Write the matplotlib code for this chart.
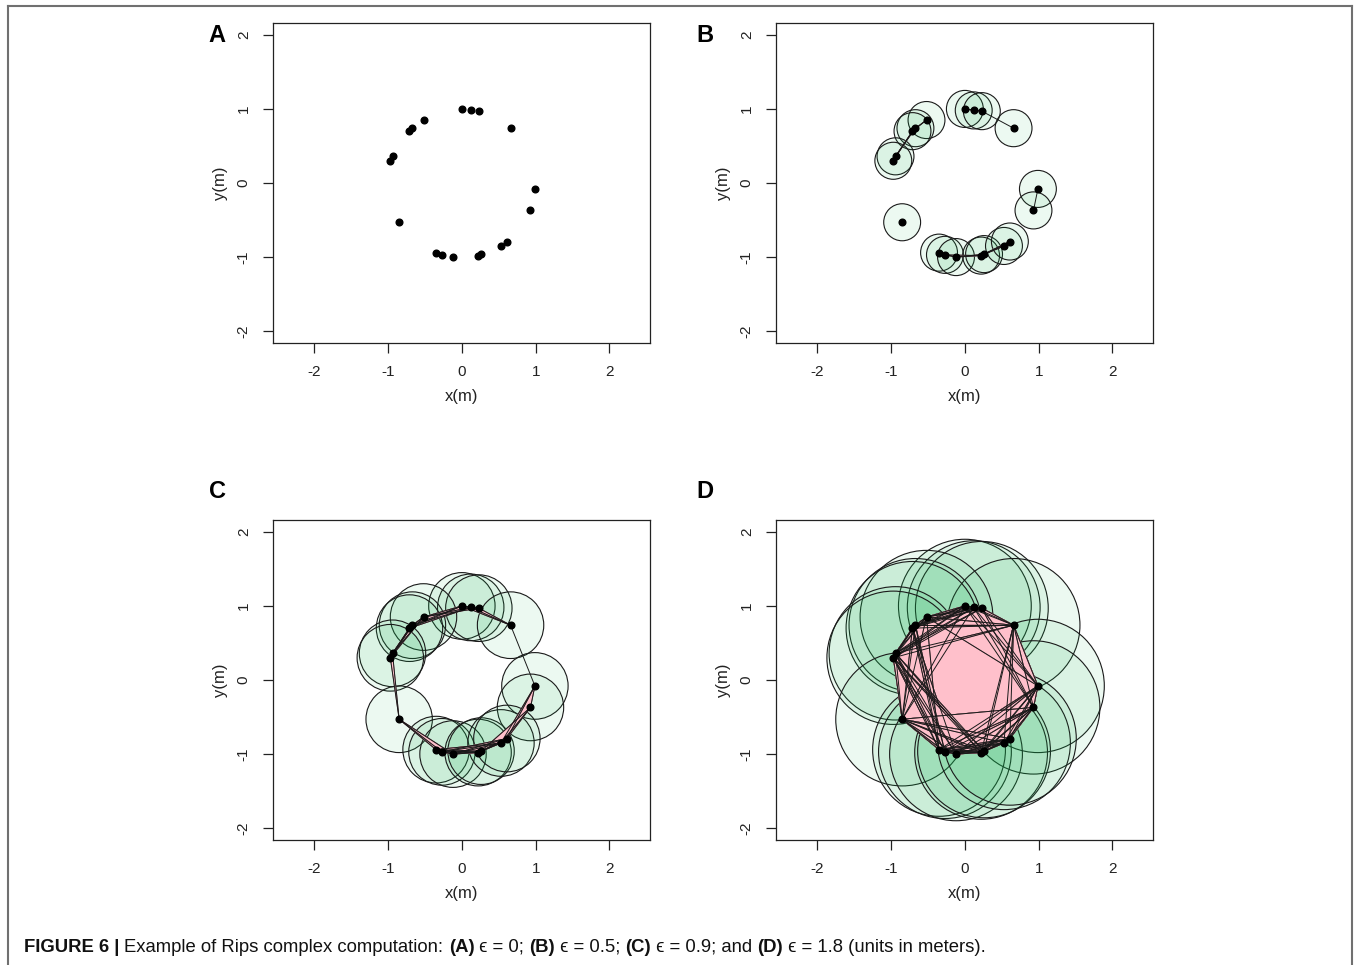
import itertools

import matplotlib.pyplot as plt
import numpy as np
from matplotlib.lines import Line2D
from matplotlib.patches import Circle, Polygon

# point cloud (metres)
px = [0.00, 0.12, 0.23, 0.66, -0.52, -0.67, -0.71, -0.94, -0.97, 0.99,
      0.93, -0.85, -0.35, -0.27, -0.12, 0.22, 0.26, 0.53, 0.61]
py = [1.00, 0.98, 0.97, 0.74, 0.85, 0.74, 0.70, 0.36, 0.30, -0.08,
      -0.37, -0.53, -0.94, -0.97, -1.00, -0.98, -0.96, -0.85, -0.79]

panels = ["A", "B", "C", "D"]
eps = [0, 0.5, 0.9, 1.8]
ticks = [-2, -1, 0, 1, 2]

W, H = 1356, 965
FONT = ["Liberation Sans", "DejaVu Sans"]
plt.rcParams["font.family"] = FONT

ball_fc = (0.08, 0.70, 0.32, 0.08)
pts = np.column_stack([px, py])
n = len(pts)
dist = np.sqrt(((pts[:, None, :] - pts[None, :, :]) ** 2).sum(-1))

fig = plt.figure(figsize=(W / 100, H / 100), dpi=100)

# axes boxes in pixels: (left, top), and panel letter positions
boxes = [(273, 23), (776, 23), (273, 520), (776, 520)]
letters = [(217, 35), (705, 35), (217, 492), (705, 492)]
bw, bh = 377, 320


def rips(ax, e):
    r = e / 2.0
    if e > 0:
        for x, y in pts:
            ax.add_patch(Circle((x, y), r, fc=ball_fc, ec="#1a1a1a",
                                lw=0.8, zorder=2))
        for i, j, k in itertools.combinations(range(n), 3):
            if dist[i, j] <= e and dist[j, k] <= e and dist[i, k] <= e:
                ax.add_patch(Polygon(pts[[i, j, k]], closed=True,
                                     fc="pink", ec="#a0707a", lw=0.6,
                                     zorder=3))
        for i, j in itertools.combinations(range(n), 2):
            if dist[i, j] <= e:
                ax.plot(pts[[i, j], 0], pts[[i, j], 1], color="#1a1a1a",
                        lw=0.7, zorder=4)
    ax.plot(pts[:, 0], pts[:, 1], "o", color="black", ms=4.8, zorder=5)


for lab, e, (l, t), (lx, ly) in zip(panels, eps, boxes, letters):
    ax = fig.add_axes([l / W, 1 - (t + bh) / H, bw / W, bh / H])
    rips(ax, e)
    ax.set_xlim(-2.56, 2.55)
    ax.set_ylim(-2.16, 2.16)
    ax.set_xticks(ticks)
    ax.set_yticks(ticks)
    ax.set_xticklabels([str(v) for v in ticks])
    ax.set_yticklabels([str(v) for v in ticks], rotation=90, va="center")
    ax.tick_params(direction="out", length=7, width=0.9, labelsize=11,
                   colors="#222222")
    ax.tick_params(axis="x", pad=9)
    ax.tick_params(axis="y", pad=9)
    for s in ax.spines.values():
        s.set_linewidth(0.9)
        s.set_color("#222222")
    ax.set_xlabel("x(m)", fontsize=12, labelpad=7, color="#222222")
    ax.set_ylabel("y(m)", fontsize=12, labelpad=6, color="#222222")
    fig.text(lx / W, 1 - ly / H, lab, fontsize=17, fontweight="bold",
             ha="center", va="center")

# outer frame
for xs, ys in [((8, 8), (6, H)), ((8, 1352), (6, 6)), ((1352, 1352), (6, H))]:
    fig.add_artist(Line2D([x / W for x in xs], [1 - y / H for y in ys],
                          color="#707070", lw=1.5))

# caption, drawn piece by piece
pieces = [("FIGURE 6 | ", "bold"), ("Example of Rips complex computation: ", "normal"),
          ("(A)", "bold"), (" \u03f5 = 0; ", "normal"), ("(B)", "bold"),
          (" \u03f5 = 0.5; ", "normal"), ("(C)", "bold"), (" \u03f5 = 0.9; and ", "normal"),
          ("(D)", "bold"), (" \u03f5 = 1.8 (units in meters).", "normal")]
renderer = fig.canvas.get_renderer()
cx = 24
for txt, wt in pieces:
    tt = fig.text(cx / W, 1 - 947 / H, txt, fontsize=13.3, fontweight=wt,
                  family=["Liberation Sans", "DejaVu Sans"],
                  ha="left", va="center", color="#111111")
    cx += tt.get_window_extent(renderer).width

fig.savefig("out.png", dpi=100)
